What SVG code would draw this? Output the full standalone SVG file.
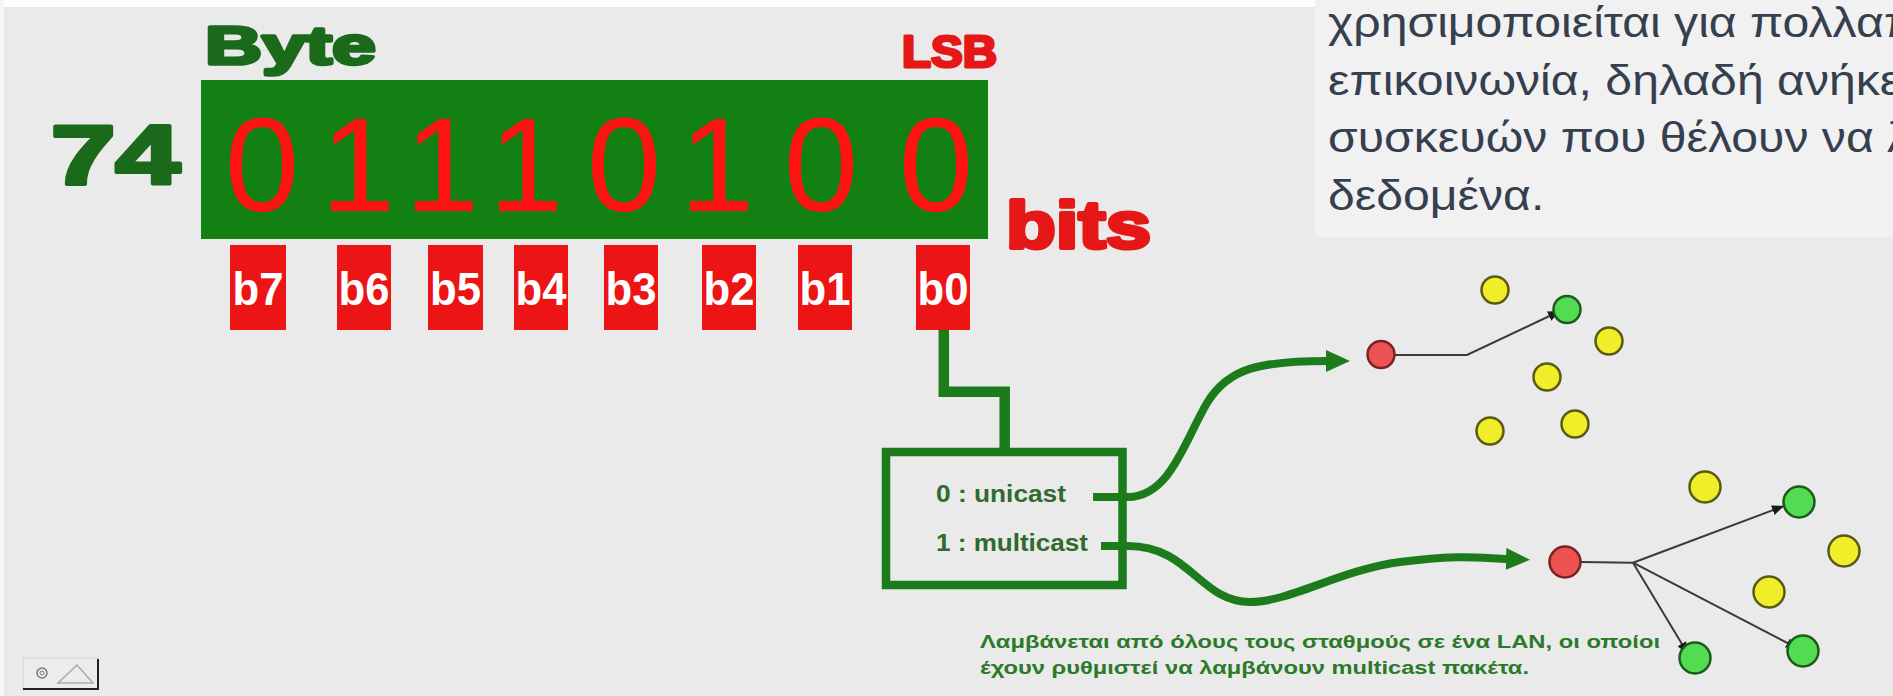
<svg xmlns="http://www.w3.org/2000/svg" width="1893" height="696" viewBox="0 0 1893 696">
<style>
.heavy{font-family:'Liberation Sans',Arial,sans-serif;font-weight:bold}
.dk{fill:#1b6a1b;stroke:#1b6a1b;stroke-linejoin:round}
.rd{fill:#e51717;stroke:#e51717;stroke-linejoin:round}
.digit{font-family:'Liberation Sans',Arial,sans-serif;font-size:134px;fill:#ff1212;text-anchor:middle}
.bbox{fill:#ec1414}
.blabel{font-family:'Liberation Sans',Arial,sans-serif;font-weight:bold;font-size:47px;fill:#ffffff;text-anchor:middle}
.gline{fill:none;stroke:#1c7c1c;stroke-width:8}
.kline{fill:none;stroke:#3a3a3a;stroke-width:2}
.yel{fill:#f0ee28;stroke:#5a5a18;stroke-width:2.5}
.grn{fill:#52dc52;stroke:#1d5a1d;stroke-width:2.5}
.red{fill:#ec5252;stroke:#7a2222;stroke-width:2.5}
.boxt{font-family:'Liberation Sans',Arial,sans-serif;font-weight:bold;font-size:23px;fill:#2f6a2f}
.note{font-family:'Liberation Sans',Arial,sans-serif;font-weight:bold;font-size:18px;fill:#2a7a2a}
.para{font-family:'Liberation Sans',Arial,sans-serif;font-size:43px;fill:#353f4f}
</style>
<defs>
<marker id="garrow" viewBox="0 0 24 22" refX="2" refY="11" markerWidth="24" markerHeight="22" markerUnits="userSpaceOnUse" orient="auto">
<path d="M0,0 L24,11 L0,22 Z" fill="#1c7c1c"/>
</marker>
<marker id="karrow" viewBox="0 0 12 10" refX="12" refY="5" markerWidth="12" markerHeight="10" markerUnits="userSpaceOnUse" orient="auto">
<path d="M0,0 L12,5 L0,10 Z" fill="#1a1a1a"/>
</marker>
</defs>

<rect x="0" y="0" width="1893" height="696" fill="#eaeaea"/>
<rect x="0" y="0" width="1315" height="7" fill="#ffffff"/>
<rect x="0" y="0" width="4" height="696" fill="#f7f7f7"/>

<g id="paragraph">
<rect x="1315" y="0" width="578" height="237" fill="#f1f1f1"/>
<g transform="translate(1328 0) scale(1.12 1)" class="para">
<text x="0" y="37">χρησιμοποιείται για πολλαπ</text>
<text x="0" y="95">επικοινωνία, δηλαδή ανήκε</text>
<text x="0" y="152">συσκευών που θέλουν να λ</text>
<text x="0" y="210">δεδομένα.</text>
</g>
</g>

<g id="byte-label">
<text class="heavy dk" x="205" y="64" font-size="54" stroke-width="3.5" textLength="171" lengthAdjust="spacingAndGlyphs">Byte</text>
</g>
<g id="value-74">
<text class="heavy dk" x="51" y="184" font-size="84" stroke-width="4" textLength="129" lengthAdjust="spacingAndGlyphs">74</text>
</g>
<g id="lsb-label">
<text class="heavy rd" x="902" y="67" font-size="44" stroke-width="3" textLength="95" lengthAdjust="spacingAndGlyphs">LSB</text>
</g>
<g id="bits-label">
<text class="heavy rd" x="1006" y="248" font-size="67" stroke-width="4" textLength="145" lengthAdjust="spacingAndGlyphs">bits</text>
</g>

<g id="byte">
<rect x="201" y="80" width="787" height="159" fill="#128012"/>
<text class="digit" x="262" y="211">0</text>
<text class="digit" x="358" y="211">1</text>
<text class="digit" x="442" y="211">1</text>
<text class="digit" x="526" y="211">1</text>
<text class="digit" x="624" y="211">0</text>
<text class="digit" x="717" y="211">1</text>
<text class="digit" x="821" y="211">0</text>
<text class="digit" x="936" y="211">0</text>
</g>

<g id="bit-b7"><rect class="bbox" x="230" y="245" width="56" height="85"/><text class="blabel" x="258" y="305" textLength="51" lengthAdjust="spacingAndGlyphs">b7</text></g>
<g id="bit-b6"><rect class="bbox" x="337" y="245" width="54" height="85"/><text class="blabel" x="364" y="305" textLength="51" lengthAdjust="spacingAndGlyphs">b6</text></g>
<g id="bit-b5"><rect class="bbox" x="428" y="245" width="55" height="85"/><text class="blabel" x="455.5" y="305" textLength="51" lengthAdjust="spacingAndGlyphs">b5</text></g>
<g id="bit-b4"><rect class="bbox" x="514" y="245" width="54" height="85"/><text class="blabel" x="541" y="305" textLength="51" lengthAdjust="spacingAndGlyphs">b4</text></g>
<g id="bit-b3"><rect class="bbox" x="604" y="245" width="54" height="85"/><text class="blabel" x="631" y="305" textLength="51" lengthAdjust="spacingAndGlyphs">b3</text></g>
<g id="bit-b2"><rect class="bbox" x="702" y="245" width="54" height="85"/><text class="blabel" x="729" y="305" textLength="51" lengthAdjust="spacingAndGlyphs">b2</text></g>
<g id="bit-b1"><rect class="bbox" x="798" y="245" width="54" height="85"/><text class="blabel" x="825" y="305" textLength="51" lengthAdjust="spacingAndGlyphs">b1</text></g>
<g id="bit-b0"><rect class="bbox" x="916" y="245" width="54" height="85"/><text class="blabel" x="943" y="305" textLength="51" lengthAdjust="spacingAndGlyphs">b0</text></g>

<g id="cast-box">
<rect x="886" y="452" width="236.5" height="133" fill="none" stroke="#1c7c1c" stroke-width="8.5"/>
<text class="boxt" x="936" y="502" textLength="130" lengthAdjust="spacingAndGlyphs">0 : unicast</text>
<text class="boxt" x="936" y="551" textLength="152" lengthAdjust="spacingAndGlyphs">1 : multicast</text>
</g>

<g id="note">
<text class="note" x="980" y="648" textLength="680" lengthAdjust="spacingAndGlyphs">Λαμβάνεται από όλους τους σταθμούς σε ένα LAN, οι οποίοι</text>
<text class="note" x="980" y="674" textLength="549" lengthAdjust="spacingAndGlyphs">έχουν ρυθμιστεί να λαμβάνουν multicast πακέτα.</text>
</g>

<g id="connectors">
<path d="M943.8,330 V391.7 H1004.7 V452" fill="none" stroke="#1c7c1c" stroke-width="10.5"/>
<path class="gline" d="M1093,497 L1128,497 C1170,497 1185,440 1207,403 C1228,368 1260,361 1328,361" marker-end="url(#garrow)"/>
<path class="gline" d="M1101,546 L1128,546 C1190,546 1200,602 1250,602 C1290,602 1340,570 1400,562 S1480,558 1508,559" marker-end="url(#garrow)"/>
<path class="kline" d="M1395,355 L1467,355 L1560,311" marker-end="url(#karrow)"/>
<path class="kline" d="M1581,562 L1633,562.7"/>
<path class="kline" d="M1633,562.7 L1784,506" marker-end="url(#karrow)"/>
<path class="kline" d="M1633,562.7 L1688,654" marker-end="url(#karrow)"/>
<path class="kline" d="M1633,562.7 L1798,648.5" marker-end="url(#karrow)"/>
</g>

<g id="unicast-net">
<circle class="red" cx="1381" cy="354.5" r="13.5"/>
<circle class="yel" cx="1495" cy="290" r="13.5"/>
<circle class="grn" cx="1567" cy="309.5" r="13.5"/>
<circle class="yel" cx="1609" cy="341" r="13.5"/>
<circle class="yel" cx="1547" cy="377" r="13.5"/>
<circle class="yel" cx="1490" cy="431" r="13.5"/>
<circle class="yel" cx="1575" cy="424" r="13.5"/>
</g>

<g id="multicast-net">
<circle class="red" cx="1565" cy="562" r="15.5"/>
<circle class="yel" cx="1705" cy="487" r="15.5"/>
<circle class="grn" cx="1799" cy="502" r="15.5"/>
<circle class="yel" cx="1844" cy="551" r="15.5"/>
<circle class="yel" cx="1769" cy="592" r="15.5"/>
<circle class="grn" cx="1695" cy="658" r="15.5"/>
<circle class="grn" cx="1803" cy="651" r="15.5"/>
</g>

<g id="toolbar-icon">
<rect x="23" y="658" width="75" height="31" fill="#ececec" stroke="#d2d2d2" stroke-width="1"/>
<path d="M23,689 H98 V659" fill="none" stroke="#222" stroke-width="2"/>
<circle cx="42" cy="673" r="5" fill="none" stroke="#7a7a7a" stroke-width="1.5"/>
<circle cx="42" cy="673" r="2" fill="none" stroke="#7a7a7a" stroke-width="1"/>
<path d="M58,683 L77,665 L93,683 Z" fill="none" stroke="#aaaaaa" stroke-width="1.5"/>
</g>
</svg>
